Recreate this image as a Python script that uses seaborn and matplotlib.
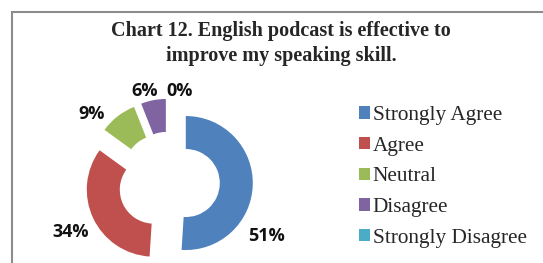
import matplotlib.pyplot as plt
import seaborn as sns
from matplotlib.patches import Rectangle

categories = ["Strongly Agree", "Agree", "Neutral", "Disagree", "Strongly Disagree"]
percentages = [51, 34, 9, 6, 0]
pct_labels = ["51%", "34%", "9%", "6%", "0%"]
colors = ["#4F81BD", "#C0504D", "#9BBB59", "#8064A2", "#4BACC6"]
title = "Chart 12. English podcast is effective to\nimprove my speaking skill."

sns.set_style("white")
palette = sns.color_palette(colors)

W, H = 543, 263
fig = plt.figure(figsize=(W / 100, H / 100), dpi=100)
ax = fig.add_axes([0, 0, 1, 1])

# donut, 1 data unit = 1 pixel, y goes up
cx, cy = 169, H - 182.5
radius = 67
wedges, _ = ax.pie(percentages, colors=palette, startangle=90, counterclock=False,
                   radius=radius, center=(cx, cy), explode=[16.8] * len(percentages),
                   wedgeprops=dict(width=33, linewidth=0))
ax.set_xlim(0, W)
ax.set_ylim(0, H)
ax.set_aspect("equal")
ax.axis("off")

# percentage labels (pixel positions)
label_pos = [(266.5, 236), (71, 232), (92, 114), (144.5, 91.5), (180, 91.5)]
for txt, (x, y) in zip(pct_labels, label_pos):
    ax.text(x, H - y, txt, ha="center", va="center", fontsize=13,
            fontweight="bold", family="Open Sans", color="#111111")

# chart area border (cut off at the right and bottom)
ax.add_patch(Rectangle((12, -20), 700, H - 12 + 20, fill=False,
                       edgecolor="#8c8c8c", lw=1.5, clip_on=False))

fig.text(281 / W, 1 - 43.5 / H, title, ha="center", va="center", multialignment="center",
         family="Liberation Serif", fontweight="bold", fontsize=14.5, linespacing=1.33)

fig.legend(wedges, categories, loc="upper left", bbox_to_anchor=(359 / W, 1 - 106 / H),
           frameon=False, prop=dict(family="Liberation Serif", size=15.3),
           handlelength=0.5, handleheight=0.5, handletextpad=0.15,
           labelspacing=0.55, borderpad=0, borderaxespad=0)

fig.savefig("out.png", dpi=100)
